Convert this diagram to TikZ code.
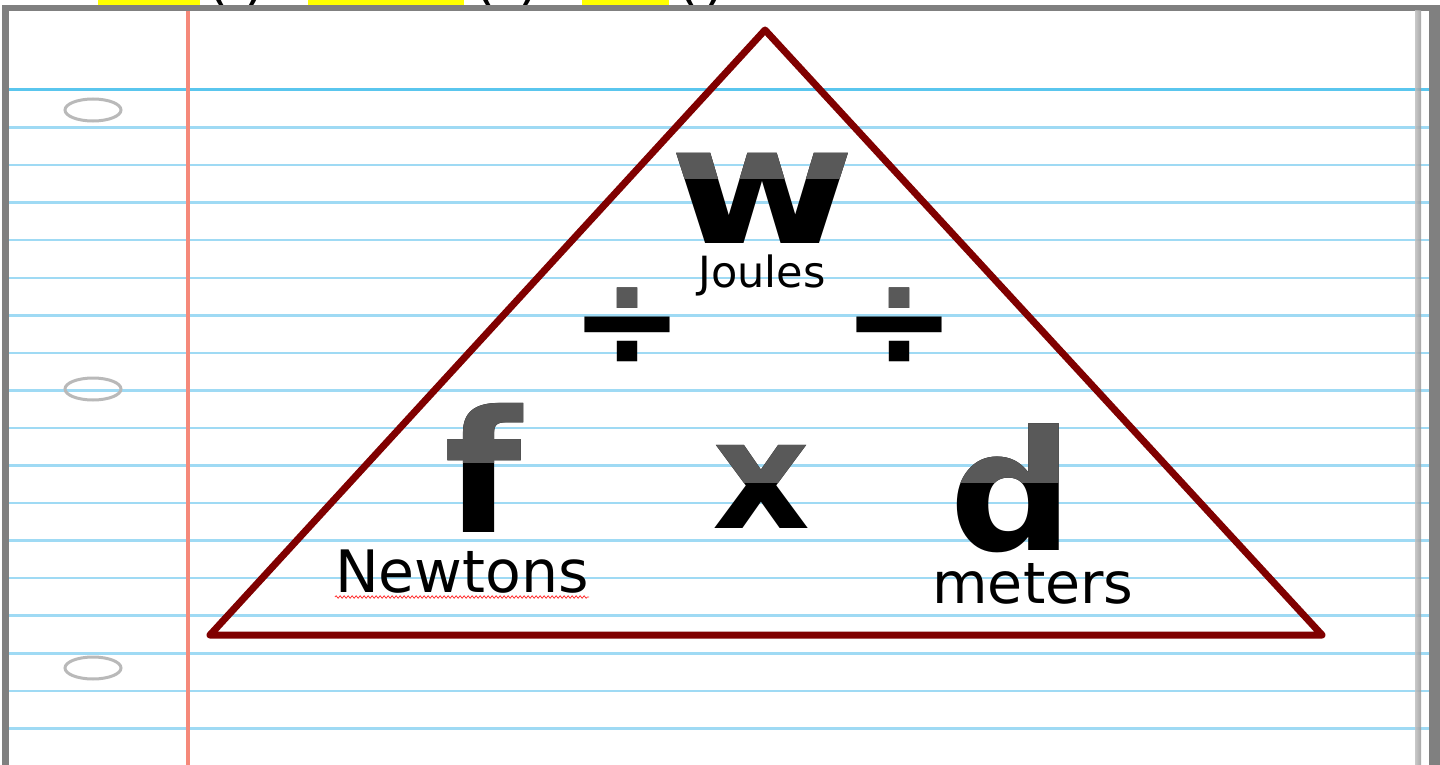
\documentclass[tikz,border=0pt]{standalone}
\usepackage{fontspec}
\setmainfont{DejaVu Sans}
\usepackage{tikz}
\usetikzlibrary{decorations.pathmorphing}
\definecolor{paperBlue}{HTML}{9FDAF4}
\definecolor{topBlue}{HTML}{5AC6EE}
\definecolor{marginRed}{HTML}{F5897A}
\definecolor{triRed}{HTML}{800000}
\definecolor{glossGray}{HTML}{595959}
\definecolor{hiYellow}{HTML}{FFFF00}
\definecolor{frameGray}{HTML}{808080}

\newcommand{\bigfont}[1]{\fontsize{#1}{#1}\selectfont}
% letter in black, upper part redrawn in grey
\newcommand{\glossy}[6]{%
  \node[glyph, font=\bfseries\bigfont{#3}] (#1) at (#2) {\scalebox{#6}[1]{#4}};
  \begin{scope}
    \clip (0,0) rectangle (1440,#5);
    \node[glyph, font=\bfseries\bigfont{#3}, text=glossGray] (#1top) at (#2) {\scalebox{#6}[1]{#4}};
  \end{scope}}

\tikzset{
  glyph/.style={anchor=base, inner sep=0pt},
  unit/.style={anchor=base, inner sep=0pt, font=\bigfont{57}},
}

\begin{document}
\begin{tikzpicture}[x=1pt, y=-1pt]
  \useasboundingbox (0,0) rectangle (1440,765);
  % blanks above the sheet
  \fill[hiYellow] (98,0) rectangle (200,5);
  \fill[hiYellow] (308,0) rectangle (464,5);
  \fill[hiYellow] (582,0) rectangle (669,5);
  \foreach \a/\b [count=\i] in {218/256, 485/530, 688/716} {
    \node[unit] (open\i) at (\a,-1) {(};
    \node[unit] (close\i) at (\b,-1) {)};
  }
  % the sheet
  \fill[frameGray] (2,5) rectangle (1440,765);
  \fill[white] (9,11) rectangle (1429,765);
  \draw[topBlue, line width=3pt] (9,90) -- (1429,90);
  \foreach \k in {1,...,18}
    \draw[paperBlue, line width=2.5pt] (9,90+37.55*\k) -- (1429,90+37.55*\k);
  \shade[left color=gray!50, right color=gray!80, opacity=0.85] (1415,11) rectangle (1421,765);
  \draw[marginRed, line width=4pt] (188,11) -- (188,765);
  \foreach \y in {110,389,668}
    \draw[gray!55, line width=3pt] (93,\y) ellipse [x radius=28, y radius=11];
  % triangle
  \draw[triRed, line width=7pt, line join=round] (765,30) -- (1322,635) -- (210,635) -- cycle;
  % W = f x d
  \glossy{w}{762,243}{165}{w}{178}{1.22}
  \glossy{f}{483,532}{170}{f}{462}{1.05}
  \glossy{x}{762,528}{152}{x}{482}{1}
  \glossy{d}{1012,550}{167}{d}{482}{1.04}
  \glossy{divl}{627,367}{136}{÷}{310}{1}
  \glossy{divr}{899,367}{136}{÷}{310}{1}
  \node[unit, font=\bigfont{43}] (joules) at (762,287) {Joules};
  \node[unit, font=\bigfont{58.5}] (newtons) at (462,592) {Newtons};
  \node[unit] (meters) at (1033,603) {meters};
  \draw[red!80, line width=0.8pt, decorate, decoration={snake, amplitude=1.2pt, segment length=4pt}]
    ([yshift=-5pt]newtons.base west) -- ([yshift=-5pt]newtons.base east);
\end{tikzpicture}
\end{document}
